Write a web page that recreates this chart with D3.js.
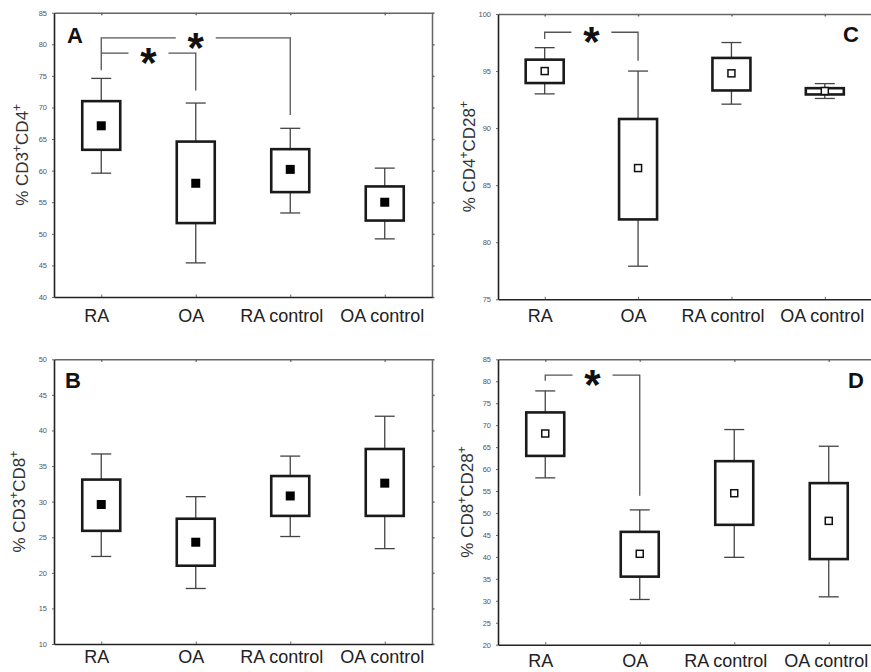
<!DOCTYPE html>
<html>
<head>
<meta charset="utf-8">
<script src="https://cdnjs.cloudflare.com/ajax/libs/d3/7.8.5/d3.min.js"></script>
<style>
  body { margin: 0; background: #fff; }
  svg { display: block; font-family: "Liberation Sans", Arial, sans-serif; }
</style>
</head>
<body>
<svg width="871" height="672"></svg>
<script>
const groups = ["RA", "OA", "RA control", "OA control"];

// A: % CD3+CD4+
const aWhiskLo = [59.6, 45.4, 53.3, 49.2];
const aBoxLo   = [63.3, 51.7, 56.6, 52.1];
const aMean    = [67.1, 58.0, 60.2, 55.0];
const aBoxHi   = [71.0, 64.6, 63.4, 57.5];
const aWhiskHi = [74.6, 70.7, 66.7, 60.4];
const aTicks   = [40, 45, 50, 55, 60, 65, 70, 75, 80, 85];
// brackets: from, to, bar level, left leg end, right leg end
const aSig = [["RA", "RA control", 81.0, 75.9, 68.8], ["RA", "OA", 78.6, 78.6, 72.7]];

// B: % CD3+CD8+
const bWhiskLo = [22.3, 17.8, 25.1, 23.4];
const bBoxLo   = [25.9, 21.0, 28.0, 28.0];
const bMean    = [29.6, 24.3, 30.8, 32.6];
const bBoxHi   = [33.1, 27.6, 33.6, 37.4];
const bWhiskHi = [36.7, 30.7, 36.4, 42.0];
const bTicks   = [10, 15, 20, 25, 30, 35, 40, 45, 50];
const bSig = [];

// C: % CD4+CD28+
const cWhiskLo = [93.0, 77.9, 92.1, 92.6];
const cBoxLo   = [93.95, 82.0, 93.3, 92.95];
const cMean    = [95.0, 86.5, 94.8, 93.25];
const cBoxHi   = [96.0, 90.8, 96.15, 93.5];
const cWhiskHi = [97.05, 95.0, 97.5, 93.9];
const cTicks   = [75, 80, 85, 90, 95, 100];
const cSig = [["RA", "OA", 98.4, 97.8, 95.9]];

// D: % CD8+CD28+
const dWhiskLo = [58.0, 30.3, 39.9, 30.9];
const dBoxLo   = [63.0, 35.5, 47.3, 39.5];
const dMean    = [68.1, 40.7, 54.5, 48.2];
const dBoxHi   = [72.9, 45.7, 61.8, 56.8];
const dWhiskHi = [77.8, 50.7, 69.0, 65.2];
const dTicks   = [20, 25, 30, 35, 40, 45, 50, 55, 60, 65, 70, 75, 80, 85];
const dSig = [["RA", "OA", 81.4, 80.1, 53.9]];

// group names sit a little left of their ticks in the original
const labelShift = [-5, -5, -9, -3];

const svg = d3.select("svg");

const panels = [
  {letter: "A", marker: "filled", lo: aWhiskLo, q1: aBoxLo, mean: aMean, q3: aBoxHi, hi: aWhiskHi,
   ticks: aTicks, sig: aSig, title: ["CD3", "CD4"],
   left: 54, right: 432, top: 12.7, bottom: 297, labelPad: 12,
   titleX: 28, letterX: 67, letterY: 43},
  {letter: "B", marker: "filled", lo: bWhiskLo, q1: bBoxLo, mean: bMean, q3: bBoxHi, hi: bWhiskHi,
   ticks: bTicks, sig: bSig, title: ["CD3", "CD8"],
   left: 54, right: 432, top: 359.3, bottom: 644, labelPad: 6,
   titleX: 25, letterX: 65, letterY: 388},
  {letter: "C", marker: "open", lo: cWhiskLo, q1: cBoxLo, mean: cMean, q3: cBoxHi, hi: cWhiskHi,
   ticks: cTicks, sig: cSig, title: ["CD4", "CD28"],
   left: 498, right: 871.5, top: 14, bottom: 299.3, labelPad: 10,
   titleX: 475, letterX: 843, letterY: 42},
  {letter: "D", marker: "open", lo: dWhiskLo, q1: dBoxLo, mean: dMean, q3: dBoxHi, hi: dWhiskHi,
   ticks: dTicks, sig: dSig, title: ["CD8", "CD28"],
   left: 498, right: 876, top: 359.3, bottom: 644.7, labelPad: 10,
   titleX: 473, letterX: 848, letterY: 388}
];

panels.forEach(drawPanel);

function drawPanel(p) {
  const x = d3.scalePoint().domain(groups).range([p.left, p.right]).padding(0.5);
  const y = d3.scaleLinear().domain([p.ticks[0], p.ticks[p.ticks.length - 1]]).range([p.bottom, p.top]);
  const g = svg.append("g");

  // top and right: grey frame with small inner ticks
  g.append("g").attr("transform", "translate(0," + p.top + ")")
    .call(d3.axisTop(x).tickSize(-2.5).tickSizeOuter(0).tickFormat(""))
    .call(a => a.selectAll("path,line").attr("stroke", "#666").attr("stroke-width", 1.5));
  g.append("g").attr("transform", "translate(" + p.right + ",0)")
    .call(d3.axisRight(y).tickValues(p.ticks).tickSize(2.5).tickSizeOuter(0).tickFormat(""))
    .call(a => a.selectAll("path,line").attr("stroke", "#666").attr("stroke-width", 1.5));

  // left axis with the small grey numbers
  g.append("g").attr("transform", "translate(" + p.left + ",0)")
    .call(d3.axisLeft(y).tickValues(p.ticks).tickSize(2).tickSizeOuter(0).tickPadding(5))
    .call(a => a.select("path").attr("stroke", "#222").attr("stroke-width", 1.6))
    .call(a => a.selectAll("line").attr("stroke", "#666"))
    .call(a => a.selectAll("text").attr("font-size", 7.5).attr("fill", "#555").attr("font-family", null));

  // bottom axis with group names
  g.append("g").attr("transform", "translate(0," + p.bottom + ")")
    .call(d3.axisBottom(x).tickSize(-2.5).tickSizeOuter(0).tickPadding(p.labelPad))
    .call(a => a.select("path").attr("stroke", "#222").attr("stroke-width", 1.6))
    .call(a => a.selectAll("line").attr("stroke", "#666"))
    .call(a => a.selectAll("text").attr("font-size", 18).attr("fill", "#222").attr("font-family", null)
      .attr("dx", (d, i) => labelShift[i]));

  // y title with superscript plus signs
  const t = g.append("text")
    .attr("transform", "translate(" + p.titleX + "," + (p.top + p.bottom) / 2 + ") rotate(-90)")
    .attr("text-anchor", "middle")
    .attr("font-size", 17)
    .attr("fill", "#333");
  t.append("tspan").text("% " + p.title[0]);
  t.append("tspan").attr("baseline-shift", "super").attr("font-size", 12).text("+");
  t.append("tspan").text(p.title[1]);
  t.append("tspan").attr("baseline-shift", "super").attr("font-size", 12).text("+");

  // whiskers
  const idx = d3.range(groups.length);
  const w = g.append("g").attr("stroke", "#444").attr("stroke-width", 1.3).attr("fill", "none");
  w.selectAll(".whisk").data(idx).enter().append("line")
    .attr("x1", i => x(groups[i])).attr("x2", i => x(groups[i]))
    .attr("y1", i => y(p.lo[i])).attr("y2", i => y(p.hi[i]));
  w.selectAll(".capLo").data(idx).enter().append("line")
    .attr("x1", i => x(groups[i]) - 10).attr("x2", i => x(groups[i]) + 10)
    .attr("y1", i => y(p.lo[i])).attr("y2", i => y(p.lo[i]));
  w.selectAll(".capHi").data(idx).enter().append("line")
    .attr("x1", i => x(groups[i]) - 10).attr("x2", i => x(groups[i]) + 10)
    .attr("y1", i => y(p.hi[i])).attr("y2", i => y(p.hi[i]));

  // boxes
  g.selectAll(".box").data(idx).enter().append("rect")
    .attr("x", i => x(groups[i]) - 19)
    .attr("width", 38)
    .attr("y", i => y(p.q3[i]))
    .attr("height", i => y(p.q1[i]) - y(p.q3[i]))
    .attr("fill", "#fff").attr("stroke", "#1a1a1a").attr("stroke-width", 2.6);

  // mean markers
  if (p.marker === "filled") {
    g.selectAll(".mean").data(idx).enter().append("rect")
      .attr("x", i => x(groups[i]) - 4.5).attr("y", i => y(p.mean[i]) - 4.5)
      .attr("width", 9).attr("height", 9).attr("fill", "#000");
  } else {
    g.selectAll(".mean").data(idx).enter().append("rect")
      .attr("x", i => x(groups[i]) - 3.5).attr("y", i => y(p.mean[i]) - 3.5)
      .attr("width", 7).attr("height", 7).attr("fill", "#fff")
      .attr("stroke", "#111").attr("stroke-width", 1.5);
  }

  // significance brackets
  p.sig.forEach(s => {
    const x1 = x(s[0]), x2 = x(s[1]), yl = y(s[2]), mid = (x1 + x2) / 2;
    const b = g.append("g").attr("stroke", "#555").attr("stroke-width", 1.3).attr("fill", "none");
    b.append("path").attr("d", d3.line()([[x1, y(s[3])], [x1, yl], [mid - 20, yl]]));
    b.append("path").attr("d", d3.line()([[mid + 20, yl], [x2, yl], [x2, y(s[4])]]));
    g.append("text")
      .attr("x", mid).attr("y", yl + 24)
      .attr("text-anchor", "middle")
      .attr("font-size", 42).attr("font-weight", "bold")
      .attr("fill", "#111")
      .text("*");
  });

  // panel letter
  g.append("text")
    .attr("x", p.letterX).attr("y", p.letterY)
    .attr("font-size", 22).attr("font-weight", "bold")
    .attr("fill", "#111")
    .text(p.letter);
}
</script>
</body>
</html>
